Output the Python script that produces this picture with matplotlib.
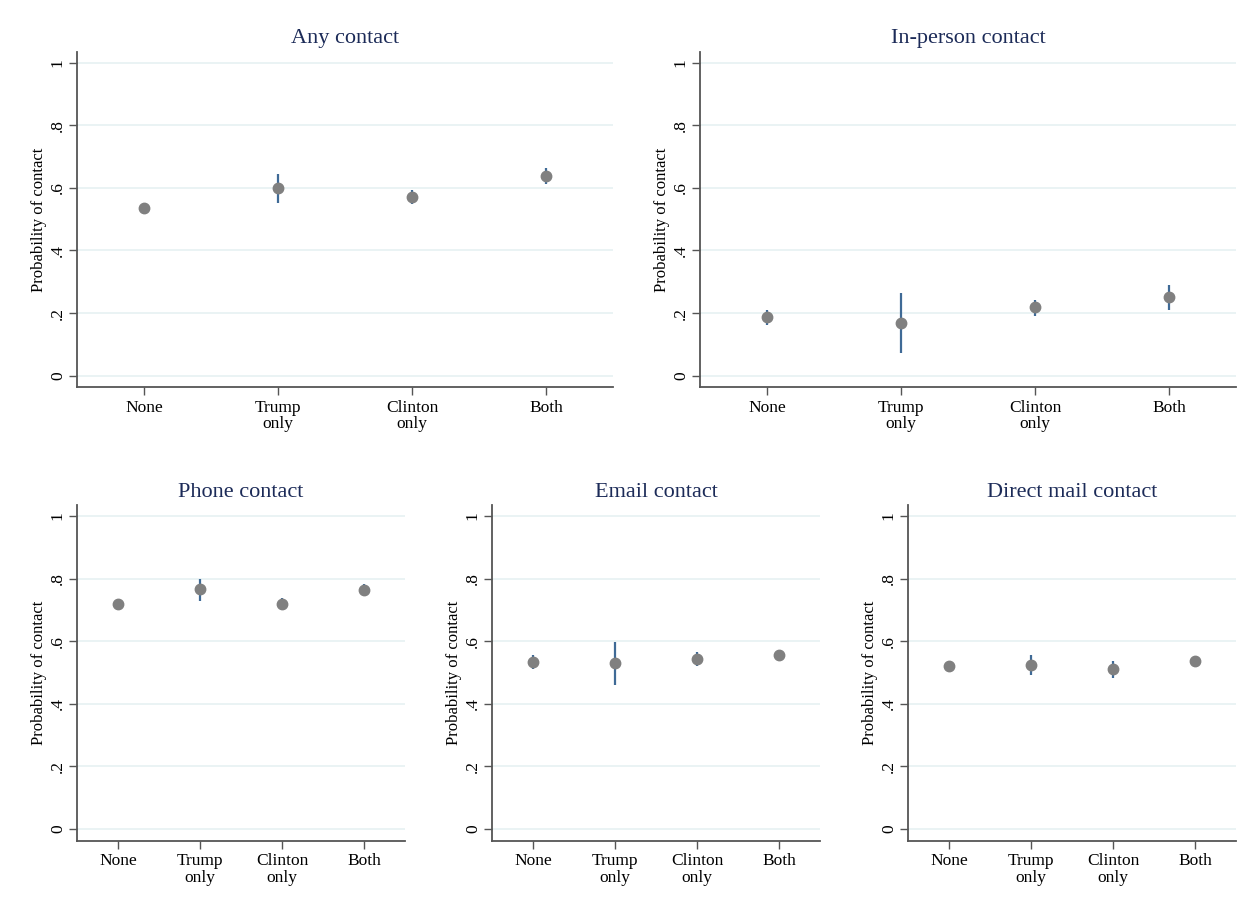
import matplotlib
matplotlib.use("Agg")
import matplotlib.pyplot as plt

categories = ["None", "Trump\nonly", "Clinton\nonly", "Both"]
titles = ["Any contact", "In-person contact", "Phone contact", "Email contact", "Direct mail contact"]

any_est = [0.535, 0.599, 0.570, 0.638]
any_lo = [0.519, 0.553, 0.549, 0.612]
any_hi = [0.553, 0.645, 0.594, 0.665]

inperson_est = [0.187, 0.168, 0.218, 0.250]
inperson_lo = [0.163, 0.072, 0.191, 0.211]
inperson_hi = [0.211, 0.264, 0.243, 0.290]

phone_est = [0.718, 0.766, 0.718, 0.764]
phone_lo = [0.700, 0.730, 0.700, 0.748]
phone_hi = [0.735, 0.800, 0.738, 0.782]

email_est = [0.534, 0.531, 0.542, 0.555]
email_lo = [0.512, 0.460, 0.522, 0.537]
email_hi = [0.557, 0.598, 0.564, 0.571]

mail_est = [0.521, 0.524, 0.510, 0.537]
mail_lo = [0.511, 0.493, 0.483, 0.526]
mail_hi = [0.531, 0.555, 0.537, 0.546]

yticks = [0, 0.2, 0.4, 0.6, 0.8, 1.0]
ytick_labels = ["0", ".2", ".4", ".6", ".8", "1"]

plt.rcParams['font.family'] = ['Liberation Serif', 'DejaVu Serif']

fig = plt.figure(figsize=(12.5, 9.07), dpi=100)
W, H = 1250, 907

def ax_rect(x0, x1, ytop, ybot):
    return [x0 / W, 1 - ybot / H, (x1 - x0) / W, (ybot - ytop) / H]

rects = [
    ax_rect(77, 613, 51.7, 387.3),
    ax_rect(700, 1236, 51.7, 387.3),
    ax_rect(77, 405, 505, 840.7),
    ax_rect(492, 820, 505, 840.7),
    ax_rect(908, 1236, 505, 840.7),
]

data = [
    (any_est, any_lo, any_hi),
    (inperson_est, inperson_lo, inperson_hi),
    (phone_est, phone_lo, phone_hi),
    (email_est, email_lo, email_hi),
    (mail_est, mail_lo, mail_hi),
]

spine_col = "#555555"
grid_col = "#e6f1f2"
bar_col = "#3f6a96"
pt_col = "#808080"
title_col = "#1c2b58"

for rect, title, (est, lo, hi) in zip(rects, titles, data):
    ax = fig.add_axes(rect)
    x = list(range(1, len(categories) + 1))
    ax.vlines(x, lo, hi, color=bar_col, lw=1.6, zorder=3)
    ax.plot(x, est, 'o', color=pt_col, markersize=7.5, zorder=4)
    ax.set_xlim(0.5, 4.5)
    ax.set_ylim(-0.037, 1.035)
    ax.set_yticks(yticks)
    ax.set_yticklabels(ytick_labels, rotation=90, va='center')
    ax.set_xticks(x)
    ax.set_xticklabels(categories, linespacing=1.05)
    for yt in yticks:
        ax.axhline(yt, color=grid_col, lw=1.2, zorder=1)
    for s in ['top', 'right']:
        ax.spines[s].set_visible(False)
    for s in ['left', 'bottom']:
        ax.spines[s].set_color(spine_col)
        ax.spines[s].set_linewidth(1.3)
    ax.tick_params(axis='both', color=spine_col, length=6, width=1.0, labelsize=12.5)
    ax.tick_params(axis='y', pad=2)
    ax.tick_params(axis='x', pad=3)
    ax.set_ylabel("Probability of contact", fontsize=12, labelpad=2)
    ax.set_title(title, fontsize=16, color=title_col, pad=6)

fig.savefig("out.png", dpi=100, facecolor="white")
